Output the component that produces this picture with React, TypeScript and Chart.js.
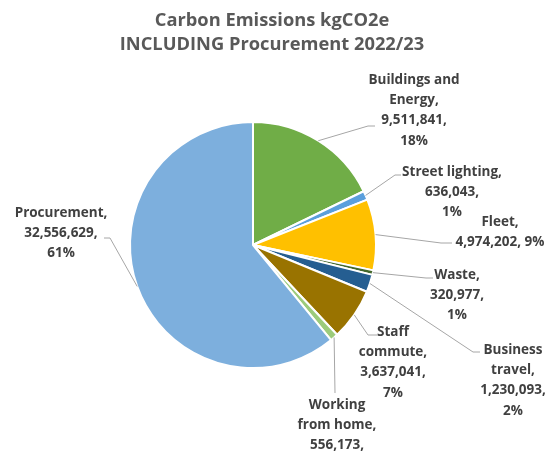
import React, { useEffect, useRef } from "react";
import { Chart, registerables } from "chart.js";

Chart.register(...registerables);

const titleLines = ["Carbon Emissions kgCO2e", "INCLUDING Procurement 2022/23"];
const categories = [
  "Buildings and Energy",
  "Street lighting",
  "Fleet",
  "Waste",
  "Business travel",
  "Staff commute",
  "Working from home",
  "Procurement",
];
const emissions = [9511841, 636043, 4974202, 320977, 1230093, 3637041, 556173, 32556629];
const sliceColors = ["#70AD47", "#5B9FDC", "#FFC000", "#43682B", "#255E91", "#997300", "#9CCB7B", "#7DAFDD"];
// number of words on each line of a data label
const labelBreaks = [[2, 1, 1, 1], [2, 1, 1], [1, 2], [1, 1, 1], [1, 1, 1, 1], [1, 1, 1, 1], [1, 2, 1, 1], [1, 1, 1]];

// label placement: text centre x, first line centre y, leader elbow, leader end x
const labelLayout = [
  { cx: 414, cy: 80, ex: 368, ey: 126, tx: 375 },
  { cx: 452, cy: 172, ex: 395, ey: 175, tx: 401 },
  { cx: 500, cy: 222, ex: 441, ey: 243, tx: 452 },
  { cx: 457, cy: 275, ex: 426, ey: 278, tx: 433 },
  { cx: 513, cy: 350, ex: 473, ey: 352, tx: 480 },
  { cx: 393, cy: 332, ex: 368, ey: 335, tx: 377 },
  { cx: 337, cy: 405, ex: 335, ey: 393, tx: 335 },
  { cx: 61, cy: 213, ex: 110, ey: 238, tx: 104 },
];

const total = emissions.reduce((a, b) => a + b, 0);

function labelLinesFor(i: number): string[] {
  const words = categories[i].split(" ");
  words[words.length - 1] += ",";
  words.push(emissions[i].toLocaleString("en-US") + ",");
  words.push(Math.round((emissions[i] / total) * 100) + "%");
  const out: string[] = [];
  let k = 0;
  for (const n of labelBreaks[i]) {
    out.push(words.slice(k, k + n).join(" "));
    k += n;
  }
  return out;
}

const FONT = "'Open Sans', Lato, sans-serif";

const labelPlugin = {
  id: "excelLabels",
  afterDraw(chart: any) {
    const ctx = chart.ctx as CanvasRenderingContext2D;
    ctx.save();
    // title
    ctx.fillStyle = "#595959";
    ctx.font = `bold 18.3px ${FONT}`;
    ctx.textAlign = "center";
    ctx.textBaseline = "middle";
    titleLines.forEach((t, i) => ctx.fillText(t, 272, 21 + i * 24));

    const meta = chart.getDatasetMeta(0);
    meta.data.forEach((arc: any, i: number) => {
      const p = arc.getProps(["x", "y", "startAngle", "endAngle", "outerRadius"], true);
      const mid = (p.startAngle + p.endAngle) / 2;
      const sx = p.x + Math.cos(mid) * p.outerRadius;
      const sy = p.y + Math.sin(mid) * p.outerRadius;
      const L = labelLayout[i];
      ctx.strokeStyle = "#A6A6A6";
      ctx.lineWidth = 1;
      ctx.beginPath();
      ctx.moveTo(sx, sy);
      ctx.lineTo(L.ex, L.ey);
      ctx.lineTo(L.tx, L.ey);
      ctx.stroke();

      ctx.fillStyle = "#404040";
      ctx.font = `bold 13.5px ${FONT}`;
      ctx.textAlign = "center";
      ctx.textBaseline = "middle";
      labelLinesFor(i).forEach((line, j) => ctx.fillText(line, L.cx, L.cy + j * 20.3));
    });
    ctx.restore();
  },
};

export default function App() {
  const ref = useRef<HTMLCanvasElement>(null);
  useEffect(() => {
    if (!ref.current) return;
    const chart = new Chart(ref.current, {
      type: "pie",
      data: {
        labels: categories,
        datasets: [
          {
            data: emissions,
            backgroundColor: sliceColors,
            borderColor: "#FFFFFF",
            borderWidth: 2,
          },
        ],
      },
      options: {
        responsive: false,
        animation: false,
        layout: { padding: { left: 129, right: 175, top: 121, bottom: 85 } },
        plugins: {
          legend: { display: false },
          tooltip: { enabled: false },
          title: { display: false },
        },
      },
      plugins: [labelPlugin],
    });
    return () => chart.destroy();
  }, []);
  return (
    <div style={{ position: "absolute", left: 0, top: 0, width: 552, height: 454, background: "#fff" }}>
      <canvas ref={ref} width={552} height={454} style={{ width: 552, height: 454 }} />
    </div>
  );
}
